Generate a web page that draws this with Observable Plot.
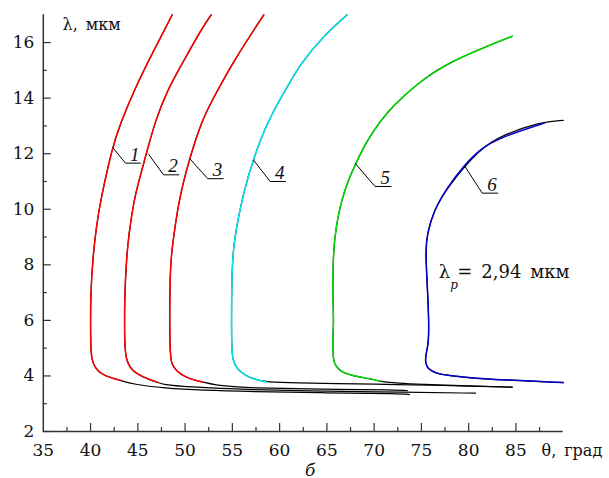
<!DOCTYPE html>
<html><head><meta charset="utf-8">
<script src="https://cdn.jsdelivr.net/npm/d3@7"></script>
<script src="https://cdn.jsdelivr.net/npm/@observablehq/plot@0.6"></script>
<style>body{margin:0;background:#fff}</style>
</head><body><div id="chart"></div>
<script>
// measured curves: [theta (deg), lambda (um)]
const curve1 = [[48.64,17.0],[46.69,15.72],[44.75,14.4],[43.16,13.09],[42.3,12.23],[41.05,10.31],[40.6,9.35],[40.25,8.27],[39.99,6.96],[40.0,5.03],[40.12,4.6],[40.5,4.27],[41.2,4.06],[42.2,3.93],[43.17,3.84]];
const curve2 = [[52.76,17.0],[51.63,16.43],[49.69,15.24],[48.11,14.28],[46.87,13.2],[45.99,12.12],[44.93,10.79],[44.6,10.32],[44.05,9.12],[43.8,8.22],[43.59,6.83],[43.59,5.16],[43.75,4.6],[44.2,4.27],[45.0,4.05],[46.0,3.9],[47.05,3.775]];
const curve3 = [[58.33,17.0],[55.15,15.35],[53.04,14.03],[51.85,13.26],[50.5,11.87],[49.3,10.32],[48.6,8.52],[48.4,7.91],[48.35,4.8],[48.6,4.4],[49.1,4.17],[50.04,3.955],[51.0,3.85],[51.95,3.775]];
const curve4 = [[67.15,17.0],[64.67,16.25],[62.21,15.24],[60.8,14.4],[58.86,13.26],[57.27,11.87],[56.21,10.67],[55.15,8.875],[54.98,7.91],[54.91,6.72],[54.91,5.03],[55.05,4.55],[55.5,4.25],[56.3,4.03],[57.3,3.88],[58.69,3.775]];
const curve5 = [[84.6,16.23],[77.73,15.29],[74.45,14.49],[72.0,13.72],[70.7,13.2],[69.26,12.48],[68.03,11.64],[66.79,10.68],[65.91,9.35],[65.63,8.16],[65.63,6.72],[65.73,5.88],[65.63,5.52],[65.63,4.67],[65.85,4.38],[66.5,4.15],[67.5,4.02],[69.61,3.9],[70.67,3.8]];
const curve6 = [[88.0,13.1],[83.37,12.59],[81.25,12.18],[79.48,11.57],[77.73,10.79],[76.31,9.955],[75.61,9.12],[75.43,8.52],[75.61,7.32],[75.78,6.11],[75.78,5.16],[75.43,4.74],[75.43,4.44],[75.7,4.25],[76.5,4.1],[77.73,4.02],[80.9,3.9],[83.72,3.86],[90.0,3.76]];
// black (calculated) continuations
const tail1 = [[44.5,3.7],[47.72,3.56],[52,3.48],[56.92,3.44],[65,3.39],[72.79,3.36],[73.74,3.33]];
const tail2 = [[47.72,3.68],[50,3.61],[56.92,3.5],[65,3.45],[72.79,3.415],[80.72,3.38]];
const tail3 = [[53,3.68],[55.86,3.595],[57,3.57],[62.21,3.53],[72.79,3.5],[73.5,3.47]];
const tail4 = [[62,3.75],[65.39,3.728],[72.79,3.69],[78,3.65],[84.6,3.595]];
const tail5 = [[72.5,3.74],[74.9,3.7],[80,3.64],[84.6,3.595]];
const top6 = [[90.0,13.2],[87.6,13.15],[83.37,12.64],[81.25,12.2]];

const curveNames = ["1","2","3","4","5","6"];
const curveColors = ["#ff0000","#ff0000","#ff0000","#00e8f0","#00dd00","#0000cc"];
const leaderStart = [[42.35,12.22],[46.16,11.97],[50.5,11.82],[57.24,11.77],[68.03,11.64],[79.59,11.55]];
const leaderCorner = [[43.7,11.66],[47.72,11.24],[52.4,11.1],[59.0,11.0],[70.09,10.82],[81.43,10.58]];
const leaderEnd = [[45.28,11.66],[49.33,11.24],[54.03,11.1],[60.62,11.0],[71.78,10.82],[83.08,10.58]];

const xMajor = [35,40,45,50,55,60,65,70,75,80,85];
const xMinor = [37.5,42.5,47.5,52.5,57.5,62.5,67.5,72.5,77.5,82.5,87.5];
const yMajor = [2,4,6,8,10,12,14,16];
const yMinor = [3,5,7,9,11,13,15];
const pumpLabel = {theta: 76.84, lambda: 7.51};

const colored = [curve1,curve2,curve3,curve4,curve5,curve6];
const blacks = [curve1.concat(tail1), curve2.concat(tail2), curve3.concat(tail3), curve4.concat(tail4), curve5.concat(tail5), top6.concat(curve6.slice(4))];

const rows = (arr, id) => arr.map(([x,y]) => ({x, y, id}));
const blackRows = blacks.flatMap((a,i) => rows(a, i));
const colorRows = colored.flatMap((a,i) => rows(a, i));
const leaderRows = curveNames.flatMap((n,i) => rows([leaderStart[i], leaderCorner[i], leaderEnd[i]], i));
const labelRows = curveNames.map((n,i) => ({x: leaderEnd[i][0], y: leaderEnd[i][1], text: n}));

const serif = "DejaVu Serif";
const axisColor = "#333";
const chart = Plot.plot({
  width: 609, height: 478,
  marginLeft: 42.8, marginRight: 46.3, marginTop: 14.3, marginBottom: 47,
  x: {domain: [35, 90]},
  y: {domain: [2, 17]},
  style: {fontFamily: serif, background: "#fff", color: "#111", overflow: "visible"},
  marks: [
    Plot.axisY({ticks: yMajor, tickSize: -8, tickFormat: () => "", label: null, stroke: axisColor, strokeWidth: 1.2}),
    Plot.axisY({ticks: yMinor, tickSize: -4, tickFormat: () => "", label: null, stroke: axisColor, strokeWidth: 1.2}),
    Plot.axisY({ticks: yMajor, tickSize: 0, tickPadding: 9, label: null, fontSize: 17}),
    Plot.axisX({ticks: xMajor.slice(1), tickSize: -8, tickFormat: () => "", label: null, stroke: axisColor, strokeWidth: 1.2}),
    Plot.axisX({ticks: xMinor, tickSize: -4, tickFormat: () => "", label: null, stroke: axisColor, strokeWidth: 1.2}),
    Plot.axisX({ticks: xMajor, tickSize: 0, tickPadding: 12, label: null, fontSize: 17}),
    Plot.ruleX([35], {y1: 2, y2: 17, stroke: axisColor, strokeWidth: 1.5}),
    Plot.ruleY([2], {x1: 35, x2: 90, stroke: axisColor, strokeWidth: 1.5}),
    Plot.line(blackRows, {x: "x", y: "y", z: "id", stroke: "#000", strokeWidth: 1.2, curve: "basis"}),
    Plot.line(colorRows, {x: "x", y: "y", z: "id", stroke: d => curveColors[d.id], strokeWidth: 1.5, curve: "basis"}),
    Plot.line(leaderRows, {x: "x", y: "y", z: "id", stroke: "#000", strokeWidth: 1}),
    Plot.text(labelRows, {x: "x", y: "y", text: "text", textAnchor: "end", lineAnchor: "bottom", dx: -1, dy: -2.5, fontFamily: "Liberation Serif", fontStyle: "italic", fontSize: 19, fill: "#111"}),
    Plot.text([pumpLabel], {x: "theta", y: "lambda", text: () => "λ", textAnchor: "start", lineAnchor: "bottom", fontSize: 18}),
    Plot.text([pumpLabel], {x: "theta", y: "lambda", text: () => "p", textAnchor: "start", lineAnchor: "bottom", dx: 11.5, dy: 10.5, fontSize: 12, fontStyle: "italic"}),
    Plot.text([pumpLabel], {x: "theta", y: "lambda", text: () => "=\u20022,94\u2002мкм", textAnchor: "start", lineAnchor: "bottom", dx: 18.4, fontSize: 18}),
    Plot.text(["λ,\u2002мкм"], {frameAnchor: "top-left", textAnchor: "start", lineAnchor: "bottom", dx: 19.2, dy: 14.7, fontSize: 16}),
    Plot.text(["θ,\u2002град"], {frameAnchor: "bottom-right", textAnchor: "start", lineAnchor: "bottom", dx: -21.7, dy: 24, fontSize: 16}),
    Plot.text(["б"], {frameAnchor: "bottom", textAnchor: "middle", lineAnchor: "bottom", dx: 7, dy: 44, fontSize: 17, fontStyle: "italic"})
  ]
});
document.getElementById("chart").appendChild(chart);
</script>
</body></html>
